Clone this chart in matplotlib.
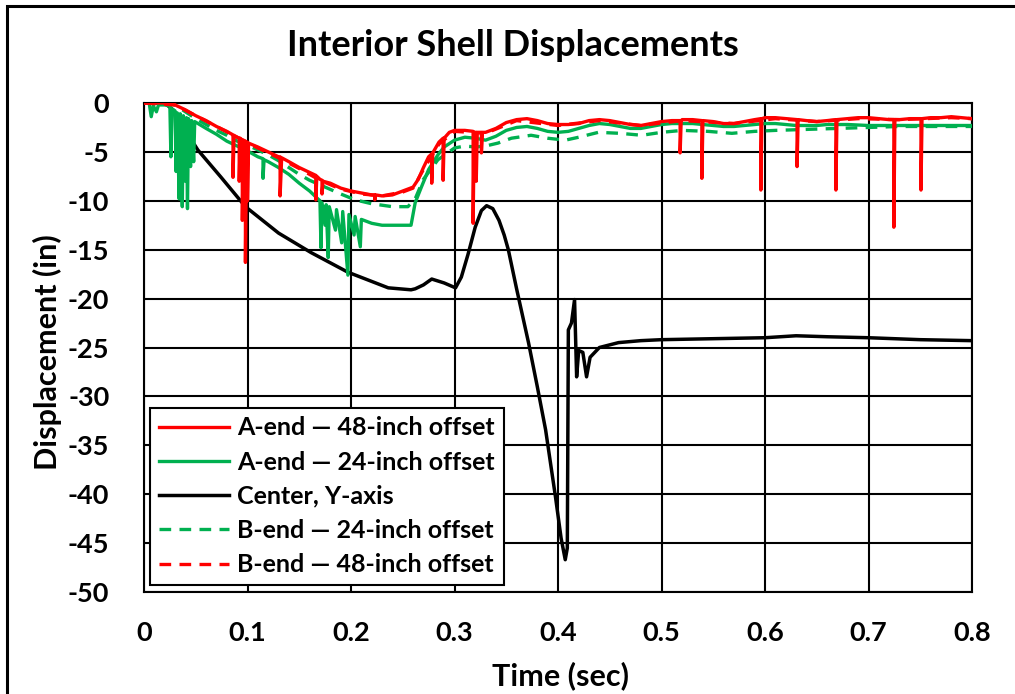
import matplotlib
matplotlib.use("Agg")
import matplotlib.pyplot as plt
from matplotlib.patches import Rectangle

plt.rcParams['font.family'] = ['Lato', 'DejaVu Sans']
plt.rcParams['font.weight'] = 'bold'
plt.rcParams['axes.unicode_minus'] = False

title = "Interior Shell Displacements"
xlabel = "Time (sec)"
ylabel = "Displacement (in)"
x_ticks = [0, 0.1, 0.2, 0.3, 0.4, 0.5, 0.6, 0.7, 0.8]
x_tick_labels = ["0", "0.1", "0.2", "0.3", "0.4", "0.5", "0.6", "0.7", "0.8"]
y_ticks = [0, -5, -10, -15, -20, -25, -30, -35, -40, -45, -50]
labels = ["A-end \u2014 48-inch offset", "A-end \u2014 24-inch offset", "Center, Y-axis",
          "B-end \u2014 24-inch offset", "B-end \u2014 48-inch offset"]

# A-end 48-inch offset
a48_t = [0, 0.025, 0.03, 0.04, 0.05, 0.06, 0.07, 0.08, 0.085,
         0.086, 0.086, 0.087, 0.09, 0.092, 0.092, 0.093, 0.095, 0.095, 0.096,
         0.098, 0.098, 0.099, 0.1, 0.1, 0.101, 0.11, 0.12, 0.13,
         0.1315, 0.1315, 0.133, 0.14, 0.15, 0.16, 0.166, 0.166, 0.167, 0.17,
         0.172, 0.172, 0.173, 0.18, 0.19, 0.2, 0.21, 0.22, 0.223, 0.223, 0.224,
         0.23, 0.24, 0.25, 0.26, 0.265, 0.27, 0.275, 0.278, 0.278, 0.279, 0.285,
         0.289, 0.289, 0.29, 0.295, 0.3, 0.31, 0.318, 0.318, 0.319, 0.321, 0.321,
         0.322, 0.326, 0.326, 0.327, 0.33, 0.34, 0.35, 0.36, 0.37, 0.38, 0.39,
         0.4, 0.41, 0.42, 0.43, 0.44, 0.45, 0.46, 0.47, 0.48, 0.49, 0.5, 0.51,
         0.518, 0.518, 0.519, 0.52, 0.53, 0.539, 0.539, 0.54, 0.55, 0.56, 0.57,
         0.58, 0.59, 0.596, 0.596, 0.597, 0.6, 0.61, 0.62, 0.631, 0.631, 0.632,
         0.64, 0.65, 0.66, 0.6685, 0.6685, 0.6695, 0.68, 0.69, 0.7, 0.71, 0.72,
         0.7245, 0.7245, 0.7255, 0.73, 0.74, 0.7507, 0.7507, 0.7517, 0.76, 0.77,
         0.78, 0.79, 0.8]
a48_y = [0, 0, -0.2, -0.7, -1.3, -1.8, -2.4, -2.9, -3.2,
         -3.3, -7.6, -3.3, -3.5, -3.6, -8.0, -3.6, -3.8, -12.0, -3.8,
         -3.9, -16.3, -4.0, -4.0, -10.0, -4.1, -4.5, -5.0, -5.5,
         -5.5, -9.5, -5.6, -6.0, -6.6, -7.1, -7.4, -9.9, -7.5, -7.8,
         -7.9, -9.3, -8.0, -8.2, -8.7, -9.0, -9.2, -9.4, -9.4, -9.9, -9.4,
         -9.5, -9.4, -9.0, -8.6, -7.8, -6.6, -5.5, -5.2, -8.2, -5.1, -4.0,
         -3.6, -7.9, -3.6, -3.0, -2.8, -2.8, -2.9, -12.3, -3.0, -3.0, -8.0,
         -3.0, -3.0, -5.1, -3.0, -3.0, -2.6, -2.0, -1.7, -1.6, -1.8, -2.1,
         -2.2, -2.2, -2.1, -1.8, -1.7, -1.8, -2.0, -2.2, -2.3, -2.1, -1.9, -1.8,
         -1.8, -5.1, -1.8, -1.7, -1.7, -1.8, -7.7, -1.8, -1.9, -2.1, -2.1,
         -1.9, -1.7, -1.6, -8.9, -1.6, -1.5, -1.5, -1.6, -1.7, -6.5, -1.7,
         -1.8, -1.9, -1.8, -1.7, -8.9, -1.7, -1.6, -1.5, -1.5, -1.6, -1.7,
         -1.7, -12.7, -1.7, -1.7, -1.6, -1.6, -8.9, -1.6, -1.5, -1.5,
         -1.4, -1.5, -1.6]

# A-end 24-inch offset
a24_t = [0, 0.005, 0.007, 0.009, 0.012, 0.014, 0.02, 0.025,
         0.026, 0.027, 0.03, 0.031, 0.032, 0.034, 0.035, 0.037, 0.038,
         0.040, 0.041, 0.042, 0.043, 0.045, 0.046, 0.048, 0.049,
         0.06, 0.07, 0.08, 0.09, 0.1, 0.11, 0.115, 0.115, 0.116, 0.12, 0.13,
         0.14, 0.15, 0.16, 0.17, 0.171, 0.172, 0.175, 0.176, 0.178, 0.179,
         0.185, 0.186, 0.191, 0.192, 0.197, 0.198, 0.203, 0.204, 0.209, 0.210,
         0.22, 0.23, 0.24, 0.25, 0.258, 0.262, 0.268, 0.275, 0.284, 0.29,
         0.3, 0.31, 0.32, 0.33, 0.34, 0.35, 0.36, 0.37, 0.38, 0.39, 0.4,
         0.41, 0.42, 0.43, 0.44, 0.45, 0.46, 0.47, 0.48, 0.49, 0.5, 0.51,
         0.52, 0.53, 0.54, 0.55, 0.56, 0.57, 0.58, 0.59, 0.6, 0.61, 0.62,
         0.63, 0.64, 0.65, 0.66, 0.67, 0.68, 0.7, 0.72, 0.74, 0.76, 0.78, 0.8]
a24_y = [0, 0, -1.4, -0.3, -0.9, -0.2, -0.2, -0.3,
         -5.5, -0.6, -0.8, -7.0, -1.0, -9.8, -1.1, -10.6, -1.3,
         -8.0, -1.5, -10.8, -1.6, -6.5, -1.8, -6.0, -1.9,
         -2.6, -3.2, -3.9, -4.4, -4.9, -5.5, -5.7, -7.7, -5.8, -6.0, -6.6,
         -7.3, -8.2, -9.0, -10.0, -14.8, -10.2, -12.5, -10.4, -15.8, -10.6,
         -13.0, -10.9, -14.3, -11.1, -17.6, -11.4, -13.5, -11.6, -14.7, -11.9,
         -12.3, -12.5, -12.5, -12.5, -12.5, -10.2, -8.6, -6.8, -5.3, -4.5,
         -3.8, -3.5, -3.6, -3.8, -3.4, -2.8, -2.5, -2.4, -2.6, -2.9, -3.0,
         -2.9, -2.6, -2.3, -2.1, -2.2, -2.4, -2.6, -2.6, -2.4, -2.2, -2.1,
         -2.1, -2.1, -2.2, -2.3, -2.4, -2.4, -2.3, -2.2, -2.1, -2.1, -2.2,
         -2.3, -2.3, -2.3, -2.2, -2.2, -2.2, -2.3, -2.3, -2.3, -2.3, -2.3, -2.3]

# Center, Y-axis
ctr_t = [0, 0.02, 0.028, 0.04, 0.052, 0.0745, 0.098, 0.13, 0.1615, 0.197,
         0.236, 0.258, 0.262, 0.27, 0.278, 0.29, 0.301, 0.3066, 0.313, 0.320,
         0.326, 0.331, 0.337, 0.343, 0.348, 0.352, 0.36, 0.3715, 0.38, 0.388,
         0.3976, 0.403, 0.407, 0.409, 0.410, 0.413, 0.416, 0.418, 0.420,
         0.424, 0.4276, 0.431, 0.44, 0.4585, 0.48, 0.5, 0.55, 0.6, 0.63, 0.66,
         0.7, 0.75, 0.8]
ctr_y = [0, 0, -0.7, -2.8, -4.8, -7.6, -10.6, -13.3, -15.3, -17.3,
         -18.9, -19.1, -19.0, -18.6, -18.0, -18.4, -18.9, -17.8, -15.5, -12.7,
         -11.0, -10.5, -10.8, -12.0, -13.5, -15.0, -19.0, -24.5, -29.0, -33.4,
         -40.3, -44.5, -46.7, -45.5, -23.2, -22.5, -20.1, -28.0, -25.3,
         -25.5, -28.0, -26.0, -25.0, -24.5, -24.3, -24.2, -24.1, -24.0, -23.8,
         -23.9, -24.0, -24.2, -24.3]

# B-end 24-inch offset
b24_t = [0, 0.03, 0.04, 0.05, 0.06, 0.07, 0.08, 0.09, 0.1, 0.11, 0.12, 0.13,
         0.14, 0.15, 0.16, 0.175, 0.19, 0.204, 0.22, 0.24, 0.255, 0.262, 0.27,
         0.284, 0.3, 0.31, 0.32, 0.33, 0.342, 0.355, 0.374, 0.39, 0.407, 0.42,
         0.439, 0.46, 0.481, 0.5, 0.52, 0.545, 0.568, 0.59, 0.61, 0.64, 0.67,
         0.7, 0.73, 0.76, 0.8]
b24_y = [0, -0.2, -0.9, -1.6, -2.2, -2.8, -3.3, -3.9, -4.3, -4.8, -5.3, -5.9,
         -6.6, -7.3, -7.9, -8.6, -9.3, -9.9, -10.3, -10.6, -10.6, -9.8, -7.8,
         -5.8, -4.6, -4.4, -4.5, -4.4, -4.1, -3.6, -3.3, -3.6, -3.8, -3.5,
         -3.0, -3.1, -3.3, -3.0, -2.8, -2.9, -3.1, -2.9, -2.8, -2.7, -2.6,
         -2.5, -2.4, -2.4, -2.4]

# B-end 48-inch offset
b48_t = [0, 0.03, 0.05, 0.07, 0.09, 0.11, 0.13, 0.15, 0.17, 0.19, 0.21, 0.23,
         0.25, 0.26, 0.27, 0.285, 0.3, 0.33, 0.36, 0.4, 0.44, 0.48, 0.52, 0.57,
         0.61, 0.65, 0.69, 0.73, 0.78, 0.8]
b48_y = [0, -0.2, -1.3, -2.4, -3.5, -4.6, -5.6, -6.7, -7.9, -8.8, -9.3, -9.5,
         -9.1, -8.7, -6.8, -4.2, -2.9, -3.1, -1.8, -2.3, -1.8, -2.3, -1.8, -2.1,
         -1.6, -1.9, -1.6, -1.7, -1.5, -1.6]

RED = "#FF0000"
GREEN = "#00B050"

fig = plt.figure(figsize=(10.15, 6.94), dpi=100)
ax = fig.add_axes([144 / 1015, 1 - 592 / 694, (972 - 144) / 1015, (592 - 103) / 694])

lw = 2.4
dash = (0, (3.5, 2.5))
h_ctr, = ax.plot(ctr_t, ctr_y, color="black", lw=2.5, zorder=3, label=labels[2])
h_b24, = ax.plot(b24_t, b24_y, color=GREEN, lw=lw, ls=dash, zorder=4, label=labels[3])
h_a24, = ax.plot(a24_t, a24_y, color=GREEN, lw=lw, zorder=5, label=labels[1])
h_b48, = ax.plot(b48_t, b48_y, color=RED, lw=lw, ls=dash, zorder=6, label=labels[4])
h_a48, = ax.plot(a48_t, a48_y, color=RED, lw=lw, zorder=7, label=labels[0])

ax.set_xlim(0, 0.8)
ax.set_ylim(-50, 0)
ax.set_xticks(x_ticks)
ax.set_xticklabels(x_tick_labels)
ax.set_yticks(y_ticks)
ax.grid(True, color="black", lw=1.5, zorder=1)
ax.set_axisbelow(True)
for s in ax.spines.values():
    s.set_color("black")
    s.set_linewidth(1.5)
ax.tick_params(axis="both", length=0, labelsize=19.5, colors="black")
ax.tick_params(axis="x", pad=21)
ax.tick_params(axis="y", pad=25)
for lab in ax.get_xticklabels() + ax.get_yticklabels():
    lab.set_fontweight("bold")

ax.set_xlabel(xlabel, fontsize=22, fontweight="bold", labelpad=10)
ax.set_ylabel(ylabel, fontsize=22, fontweight="bold", labelpad=10)
ax.yaxis.set_label_coords(47 / 1015, 1 - 352 / 694, transform=fig.transFigure)
ax.yaxis.label.set_va("center")
ax.xaxis.set_label_coords(560 / 1015, 1 - 676 / 694, transform=fig.transFigure)
ax.xaxis.label.set_va("center")
fig.text(513 / 1015, 1 - 45 / 694, title, ha="center", va="center",
         fontsize=26, fontweight="bold")

leg = ax.legend(handles=[h_a48, h_a24, h_ctr, h_b24, h_b48], loc="lower left",
                bbox_to_anchor=(0.007, 0.014), borderaxespad=0, fancybox=False,
                framealpha=1, edgecolor="black", prop={"size": 18, "weight": "bold"},
                handlelength=2.8, handletextpad=0.35, labelspacing=0.45, borderpad=0.35)
leg.get_frame().set_linewidth(1.5)
leg.set_zorder(10)

fig.patches.append(Rectangle((7 / 1015, -0.1), 1.2, 1.1 - 6 / 694, transform=fig.transFigure,
                             fill=False, edgecolor="black", lw=2.2, figure=fig))

fig.savefig("out.png", dpi=100)
